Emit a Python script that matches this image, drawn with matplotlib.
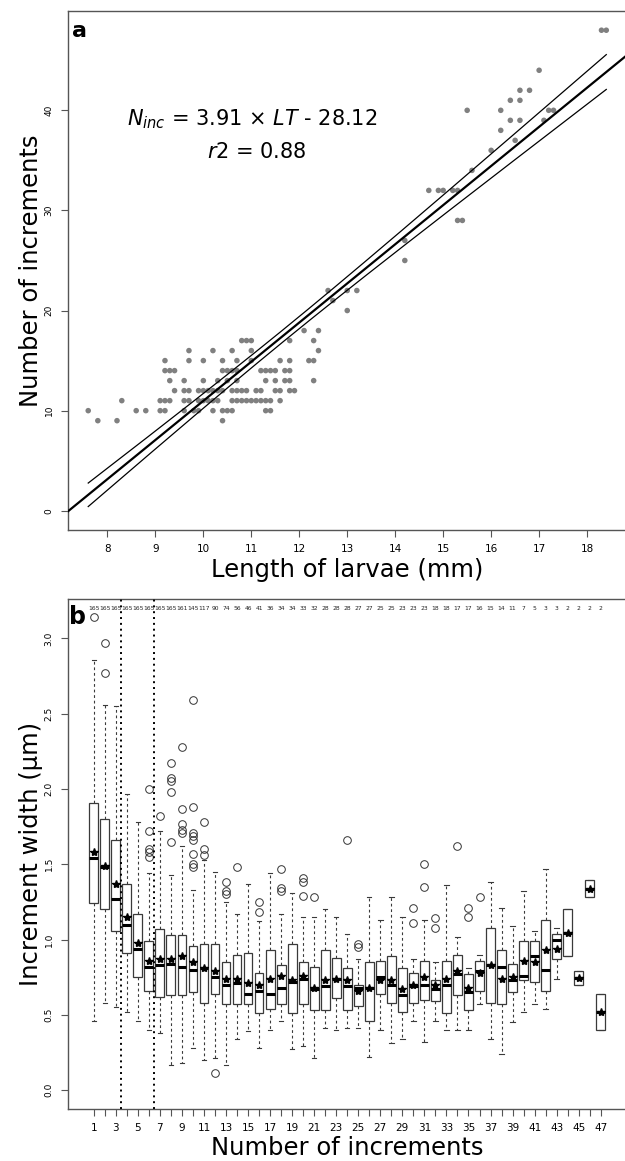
import numpy as np
import matplotlib
matplotlib.use("Agg")
import matplotlib.pyplot as plt

# ---------------- Panel a data ----------------
# larval lengths (mm) observed at each number of increments
lengths_by_inc = {
    9: [7.8, 8.2, 10.4],
    10: [7.6, 8.6, 8.8, 9.1, 9.2, 9.6, 9.8, 9.9, 10.2, 10.4, 10.5, 10.6, 11.3, 11.4],
    11: [8.3, 9.1, 9.2, 9.3, 9.6, 9.7, 9.9, 10.0, 10.1, 10.2, 10.3, 10.6, 10.7, 10.8,
         10.9, 11.0, 11.1, 11.2, 11.3, 11.4, 11.6],
    12: [9.4, 9.6, 9.7, 9.9, 10.0, 10.1, 10.2, 10.3, 10.4, 10.6, 10.7, 10.8, 10.9,
         11.1, 11.2, 11.5, 11.6, 11.8, 11.9],
    13: [9.3, 9.6, 10.0, 10.3, 10.5, 10.7, 11.3, 11.5, 11.7, 11.8, 12.3],
    14: [9.2, 9.3, 9.4, 10.4, 10.5, 10.6, 10.7, 11.2, 11.3, 11.4, 11.5, 11.7, 11.8],
    15: [9.2, 9.7, 10.0, 10.4, 10.7, 11.0, 11.6, 11.8, 12.2, 12.3],
    16: [9.7, 10.2, 10.6, 11.0, 12.4],
    17: [10.8, 10.9, 11.0, 11.8, 12.3],
    18: [12.1, 12.4],
    20: [13.0],
    21: [12.7],
    22: [12.6, 13.0, 13.2],
    25: [14.2],
    27: [14.2],
    29: [15.3, 15.4],
    32: [14.7, 14.9, 15.0, 15.2, 15.3],
    34: [15.6],
    36: [16.0],
    37: [16.5],
    38: [16.2],
    39: [16.4, 16.6, 17.1],
    40: [15.5, 16.2, 17.2, 17.3],
    41: [16.4, 16.6],
    42: [16.6, 16.8],
    44: [17.0],
    48: [18.3, 18.4],
}
slope = 3.91
intercept = -28.12
r2 = 0.88

length_mm = np.array([x for k, v in lengths_by_inc.items() for x in v])
n_inc = np.array([k for k, v in lengths_by_inc.items() for x in v], dtype=float)

# ---------------- Panel b data ----------------
positions = np.arange(1, 48)
counts = [165, 165, 165, 165, 165, 165, 165, 165, 161, 145, 117, 90, 74, 56, 46, 41,
          36, 34, 34, 33, 32, 28, 28, 28, 27, 27, 25, 25, 23, 23, 23, 18, 18, 17, 17,
          16, 15, 14, 11, 7, 5, 3, 3, 2, 2, 2, 2]
whislo = [0.46, 0.58, 0.55, 0.52, 0.46, 0.40, 0.38, 0.17, 0.18, 0.28, 0.20, 0.21, 0.17,
          0.34, 0.39, 0.28, 0.40, 0.46, 0.27, 0.29, 0.21, 0.41, 0.40, 0.41, 0.41, 0.22,
          0.40, 0.31, 0.34, 0.46, 0.32, 0.46, 0.40, 0.40, 0.40, 0.57, 0.34, 0.24, 0.45,
          0.52, 0.57, 0.54, 0.74, 0.89, 0.70, 1.28, 0.40]
q1 = [1.24, 1.20, 1.06, 0.91, 0.75, 0.66, 0.62, 0.63, 0.63, 0.65, 0.58, 0.64, 0.57,
      0.57, 0.57, 0.51, 0.54, 0.57, 0.51, 0.57, 0.53, 0.53, 0.61, 0.53, 0.56, 0.46,
      0.64, 0.58, 0.52, 0.58, 0.60, 0.59, 0.51, 0.63, 0.53, 0.66, 0.58, 0.57, 0.65,
      0.73, 0.72, 0.66, 0.87, 0.89, 0.70, 1.28, 0.40]
med = [1.54, 1.48, 1.27, 1.10, 0.94, 0.82, 0.83, 0.84, 0.82, 0.80, 0.81, 0.75, 0.70,
       0.71, 0.64, 0.66, 0.64, 0.68, 0.72, 0.74, 0.67, 0.69, 0.74, 0.69, 0.68, 0.68,
       0.75, 0.70, 0.63, 0.69, 0.70, 0.67, 0.70, 0.77, 0.65, 0.79, 0.83, 0.82, 0.73,
       0.76, 0.89, 0.80, 1.00, 1.045, 0.746, 1.336, 0.518]
q3 = [1.91, 1.80, 1.66, 1.37, 1.17, 0.99, 1.07, 1.03, 1.03, 0.96, 0.97, 0.97, 0.85,
      0.90, 0.91, 0.78, 0.93, 0.83, 0.97, 0.85, 0.82, 0.93, 0.88, 0.81, 0.70, 0.85,
      0.86, 0.89, 0.81, 0.78, 0.86, 0.73, 0.86, 0.90, 0.77, 0.86, 1.08, 0.93, 0.84,
      0.99, 0.99, 1.13, 1.04, 1.20, 0.79, 1.395, 0.638]
whishi = [2.86, 2.56, 2.55, 1.97, 1.78, 1.44, 1.72, 1.43, 1.62, 1.33, 1.53, 1.45, 1.25,
          1.17, 1.37, 1.12, 1.44, 1.17, 1.31, 1.15, 1.15, 1.20, 1.15, 1.04, 0.87, 1.28,
          1.13, 1.28, 1.15, 0.87, 1.13, 0.85, 1.36, 1.02, 0.81, 0.90, 1.38, 1.21, 1.09,
          1.32, 1.06, 1.47, 1.08, 1.20, 0.79, 1.395, 0.638]
means = [1.58, 1.49, 1.37, 1.15, 0.98, 0.86, 0.87, 0.87, 0.89, 0.85, 0.81, 0.79, 0.74,
         0.74, 0.71, 0.70, 0.74, 0.76, 0.73, 0.76, 0.68, 0.73, 0.74, 0.73, 0.66, 0.68,
         0.73, 0.73, 0.67, 0.70, 0.75, 0.70, 0.74, 0.79, 0.68, 0.78, 0.83, 0.74, 0.75,
         0.86, 0.85, 0.93, 0.94, 1.045, 0.746, 1.336, 0.518]
outliers = {
    1: [3.14], 2: [2.97, 2.77], 6: [2.00, 1.72, 1.60, 1.58, 1.55], 7: [1.82],
    8: [2.17, 2.07, 2.05, 1.98, 1.65], 9: [2.28, 1.87, 1.77, 1.73, 1.71],
    10: [2.59, 1.88, 1.71, 1.69, 1.66, 1.57, 1.50, 1.48], 11: [1.78, 1.60, 1.56],
    12: [0.115], 13: [1.38, 1.32, 1.30], 14: [1.48], 16: [1.25, 1.18],
    18: [1.47, 1.34, 1.32], 20: [1.41, 1.38, 1.29], 21: [1.28], 24: [1.66],
    25: [0.97, 0.95], 30: [1.21, 1.11], 31: [1.50, 1.35], 32: [1.14, 1.08],
    34: [1.62], 35: [1.21, 1.15], 36: [1.28],
}
separators = [3.5, 6.5]

# ---------------- Figure ----------------
plt.rcParams["font.family"] = ["DejaVu Sans"]
plt.rcParams["mathtext.fontset"] = "dejavusans"
W, H = 625, 1161
fig = plt.figure(figsize=(W / 100, H / 100), dpi=100)

frame_col = "#555555"
label_fs = 17.5

def px_axes(left, top, right, bottom):
    return fig.add_axes([left / W, 1 - bottom / H, (right - left) / W, (bottom - top) / H])

def style(ax):
    for s in ax.spines.values():
        s.set_color(frame_col)
        s.set_linewidth(1.0)
    ax.tick_params(direction="out", length=5, width=0.8, color=frame_col,
                   labelsize=7.5, pad=5)

# ---- Panel a ----
ax1 = px_axes(67.5, 11, 627, 530)
style(ax1)
ax1.scatter(length_mm, n_inc, s=16, color="#808080", edgecolors="none", zorder=3)

xr = (length_mm.min(), length_mm.max())
ax1.set_xlim(xr[0] - 0.04 * (xr[1] - xr[0]), xr[1] + 0.04 * (xr[1] - xr[0]))
ax1.set_ylim(0 - 0.04 * 48, 48 + 0.04 * 48)

xl = np.array(ax1.get_xlim())
ax1.plot(xl, slope * xl + intercept, color="black", lw=1.6, zorder=4)
# confidence band of the fitted line
nn = len(length_mm)
resid = n_inc - (slope * length_mm + intercept)
se = np.sqrt(np.sum(resid ** 2) / (nn - 2))
xbar = length_mm.mean()
sxx = np.sum((length_mm - xbar) ** 2)
xs = np.linspace(xr[0], xr[1], 200)
half = 1.97 * se * np.sqrt(1 / nn + (xs - xbar) ** 2 / sxx)
fit = slope * xs + intercept
ax1.plot(xs, fit + half, color="black", lw=0.9, zorder=4)
ax1.plot(xs, fit - half, color="black", lw=0.9, zorder=4)

ax1.set_xticks(np.arange(8, 19))
ax1.set_yticks([0, 10, 20, 30, 40])
ax1.set_yticklabels(["0", "10", "20", "30", "40"], rotation=90, va="center", fontsize=6.5)
ax1.set_xlabel("Length of larvae (mm)", fontsize=label_fs, labelpad=3)
ax1.set_ylabel("Number of increments", fontsize=label_fs, labelpad=1)

ax1.text(72 / W, 1 - 37 / H, "a", transform=fig.transFigure, fontsize=16,
         fontweight="bold", ha="left", va="baseline")
ax1.text(252 / W, 1 - 125 / H, r"$N_{inc}$ = 3.91 × $LT$ - 28.12",
         transform=fig.transFigure, fontsize=15, ha="center", va="baseline")
ax1.text(257 / W, 1 - 158 / H, r"$r2$ = 0.88", transform=fig.transFigure,
         fontsize=15, ha="center", va="baseline")

# ---- Panel b ----
ax2 = px_axes(67.5, 598.5, 627, 1109)
style(ax2)
stats = []
for i in range(len(positions)):
    p = positions[i]
    stats.append(dict(med=med[i], q1=q1[i], q3=q3[i], whislo=whislo[i],
                      whishi=whishi[i], mean=means[i],
                      fliers=outliers.get(p, [])))
ax2.bxp(stats, positions=positions, widths=0.8, patch_artist=True,
        showmeans=True, capwidths=0.4,
        boxprops=dict(facecolor="white", edgecolor="#3a3a3a", linewidth=0.9),
        medianprops=dict(color="black", linewidth=2.2),
        whiskerprops=dict(color="#3a3a3a", linewidth=0.8, linestyle=(0, (2.5, 2.5))),
        capprops=dict(color="#3a3a3a", linewidth=0.8),
        flierprops=dict(marker="o", markerfacecolor="none", markeredgecolor="#333333",
                        markersize=5.5, markeredgewidth=0.7),
        meanprops=dict(marker="*", markerfacecolor="black", markeredgecolor="black",
                       markersize=6))
for sx in separators:
    ax2.axvline(sx, color="black", lw=1.4, linestyle=(0, (1, 2)), zorder=5)

n = len(positions)
ax2.set_xlim(0.5 - 0.04 * n, n + 0.5 + 0.04 * n)
ax2.set_ylim(0 - 0.04 * 3.14, 3.14 + 0.04 * 3.14)
for p, c in zip(positions, counts):
    ax2.text(p, 3.197, str(c), ha="center", va="center", fontsize=4.3, color="#222222")

ax2.set_xticks(positions)
ax2.set_xticklabels([str(p) if p % 2 == 1 else "" for p in positions])
yt = [0.0, 0.5, 1.0, 1.5, 2.0, 2.5, 3.0]
ax2.set_yticks(yt)
ax2.set_yticklabels([f"{v:.1f}" for v in yt], rotation=90, va="center", fontsize=6.5)
ax2.set_xlabel("Number of increments", fontsize=label_fs, labelpad=2)
ax2.set_ylabel("Increment width (µm)", fontsize=label_fs, labelpad=1)
ax2.text(69 / W, 1 - 624 / H, "b", transform=fig.transFigure, fontsize=17,
         fontweight="bold", ha="left", va="baseline")

fig.savefig("out.png", dpi=100)
